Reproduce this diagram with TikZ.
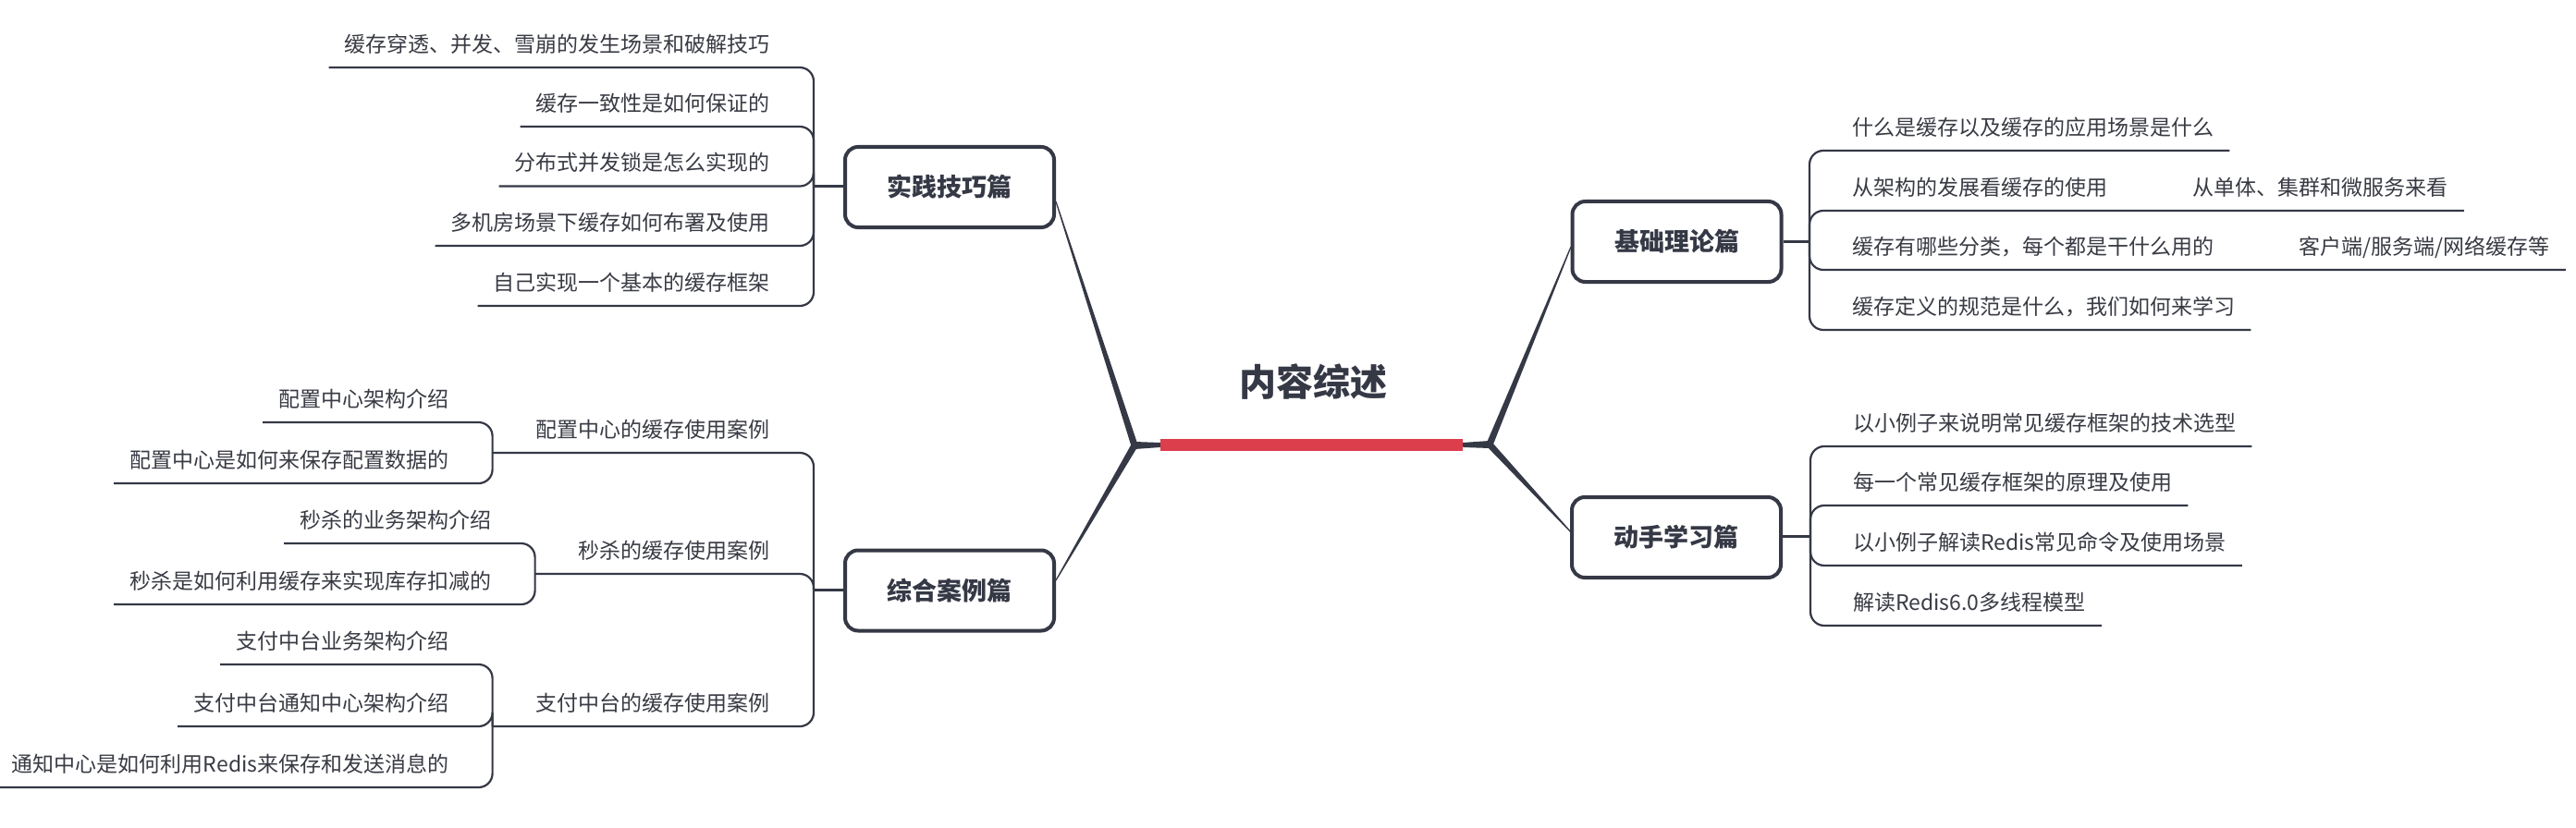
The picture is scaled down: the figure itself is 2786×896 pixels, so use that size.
\documentclass[tikz,border=0pt]{standalone}
\usepackage{fontspec}
\setmainfont{Noto Sans CJK SC}
\usetikzlibrary{calc}
\definecolor{dk}{HTML}{353845}
\definecolor{rd}{HTML}{DC3E4C}
\definecolor{tx}{HTML}{393B44}
\tikzset{
  itm/.style={inner sep=0pt, text=tx, font=\fontsize{23}{28}\selectfont},
  topic/.style={draw=dk, line width=4pt, rounded corners=14pt, fill=white,
    minimum width=226pt, minimum height=87pt, inner sep=0pt, text=dk,
    font=\fontsize{27}{32}\selectfont\bfseries},
  conn/.style={draw=dk, line width=2.2pt, rounded corners=15pt},
  stem/.style={draw=dk, line width=2.8pt},
}
\newcommand{\RItem}[4]{%
  \coordinate (#1s) at (#2 |- 0,#3);
  \node[itm, anchor=base west] (#1) at ($(#1s)+(46,-16.5)$) {#4};
  \coordinate (#1e) at ($(#1.base east)+(17,16.5)$);
  \draw[conn] (#2) -- (#1s) -- (#1e);
}
\newcommand{\LItem}[4]{%
  \coordinate (#1s) at (#2 |- 0,#3);
  \node[itm, anchor=base east] (#1) at ($(#1s)+(-47,-16.5)$) {#4};
  \coordinate (#1e) at ($(#1.base west)+(-17,16.5)$);
  \draw[conn] (#2) -- (#1s) -- (#1e);
}
\newcommand{\MItem}[4]{%
  \coordinate (#1s) at (#2 |- 0,#3);
  \node[itm, anchor=base east] (#1) at ($(#1s)+(-47,-16.5)$) {#4};
  \coordinate (#1k) at ($(#1.base west)+(-47,16.5)$);
  \draw[conn] (#2) -- (#1s) -- (#1k);
}
\newcommand{\taper}[4]{%
  \fill[dk] ($(#1)!#3!90:(#2)$) -- ($(#2)!#4!-90:(#1)$) -- ($(#2)!#4!90:(#1)$) -- ($(#1)!#3!-90:(#2)$) -- cycle;
}
\begin{document}
\begin{tikzpicture}[x=1pt,y=-1pt]
\fill[white] (0,0) rectangle (2786,896);
\useasboundingbox (0,0) rectangle (2786,896);

% ---- centre ----
\node[font=\fontsize{40}{48}\selectfont\bfseries, text=dk] (title) at (1420,413) {内容综述};
\coordinate (JL) at (1227,482);
\coordinate (JR) at (1611,481);
\coordinate (b1in) at (1142,218);
\coordinate (b2in) at (1142,628);
\coordinate (b3in) at (1699,267);
\coordinate (b4in) at (1700,577);
\node[fill=rd, minimum width=327pt, minimum height=13pt, inner sep=0pt] (bar) at (1418.5,481.5) {};
\coordinate (barw) at (bar.west);
\coordinate (bare) at (bar.east);
\taper{JL}{barw}{4pt}{2.5pt}
\taper{JR}{bare}{4pt}{2.5pt}
\taper{JL}{b1in}{3.6pt}{0.6pt}
\taper{JL}{b2in}{3.6pt}{0.6pt}
\taper{JR}{b3in}{3.6pt}{0.6pt}
\taper{JR}{b4in}{3.6pt}{0.6pt}

% ---- main topics ----
\node[topic] (B1) at (1027,202.5) {实践技巧篇};
\node[topic] (B2) at (1027,639) {综合案例篇};
\node[topic] (B3) at (1813.5,261.5) {基础理论篇};
\node[topic] (B4) at (1813,581.5) {动手学习篇};

\coordinate (s1) at (880,201.5);
\coordinate (s2) at (880,638.5);
\coordinate (s3) at (1957,261.5);
\coordinate (s4) at (1958,580.5);
\draw[stem] (B1.west |- s1) -- (s1);
\draw[stem] (B2.west |- s2) -- (s2);
\draw[stem] (B3.east |- s3) -- (s3);
\draw[stem] (B4.east |- s4) -- (s4);

% ---- 基础理论篇 ----
\RItem{R1}{s3}{163}{什么是缓存以及缓存的应用场景是什么}
\coordinate (R2s) at (s3 |- 0,228);
\node[itm, anchor=base west] (R2) at ($(R2s)+(46,-16.5)$) {从架构的发展看缓存的使用};
\node[itm, anchor=base west] (R2a) at ($(R2.base east)+(92,0)$) {从单体、集群和微服务来看};
\coordinate (R2e) at ($(R2a.base east)+(17,16.5)$);
\draw[conn] (s3) -- (R2s) -- (R2e);
\coordinate (R3s) at (s3 |- 0,292);
\node[itm, anchor=base west] (R3) at ($(R3s)+(46,-16.5)$) {缓存有哪些分类，每个都是干什么用的};
\node[itm, anchor=base west] (R3a) at ($(R3.base east)+(92,0)$) {客户端/服务端/网络缓存等};
\coordinate (R3e) at ($(R3a.base east)+(17,16.5)$);
\draw[conn] (s3) -- (R3s) -- (R3e);
\RItem{R4}{s3}{357}{缓存定义的规范是什么，我们如何来学习}

% ---- 动手学习篇 ----
\RItem{D1}{s4}{483}{以小例子来说明常见缓存框架的技术选型}
\RItem{D2}{s4}{547}{每一个常见缓存框架的原理及使用}
\RItem{D3}{s4}{612}{以小例子解读Redis常见命令及使用场景}
\RItem{D4}{s4}{677}{解读Redis6.0多线程模型}

% ---- 实践技巧篇 ----
\LItem{P1}{s1}{73}{缓存穿透、并发、雪崩的发生场景和破解技巧}
\LItem{P2}{s1}{137}{缓存一致性是如何保证的}
\LItem{P3}{s1}{201.5}{分布式并发锁是怎么实现的}
\LItem{P4}{s1}{266}{多机房场景下缓存如何布署及使用}
\LItem{P5}{s1}{331}{自己实现一个基本的缓存框架}

% ---- 综合案例篇 ----
\MItem{C1}{s2}{490}{配置中心的缓存使用案例}
\LItem{C1a}{C1k}{457}{配置中心架构介绍}
\LItem{C1b}{C1k}{523}{配置中心是如何来保存配置数据的}
\MItem{C2}{s2}{621}{秒杀的缓存使用案例}
\LItem{C2a}{C2k}{588}{秒杀的业务架构介绍}
\LItem{C2b}{C2k}{654}{秒杀是如何利用缓存来实现库存扣减的}
\MItem{C3}{s2}{786}{支付中台的缓存使用案例}
\LItem{C3a}{C3k}{719}{支付中台业务架构介绍}
\LItem{C3b}{C3k}{786}{支付中台通知中心架构介绍}
\LItem{C3c}{C3k}{852}{通知中心是如何利用Redis来保存和发送消息的}
\end{tikzpicture}
\end{document}
